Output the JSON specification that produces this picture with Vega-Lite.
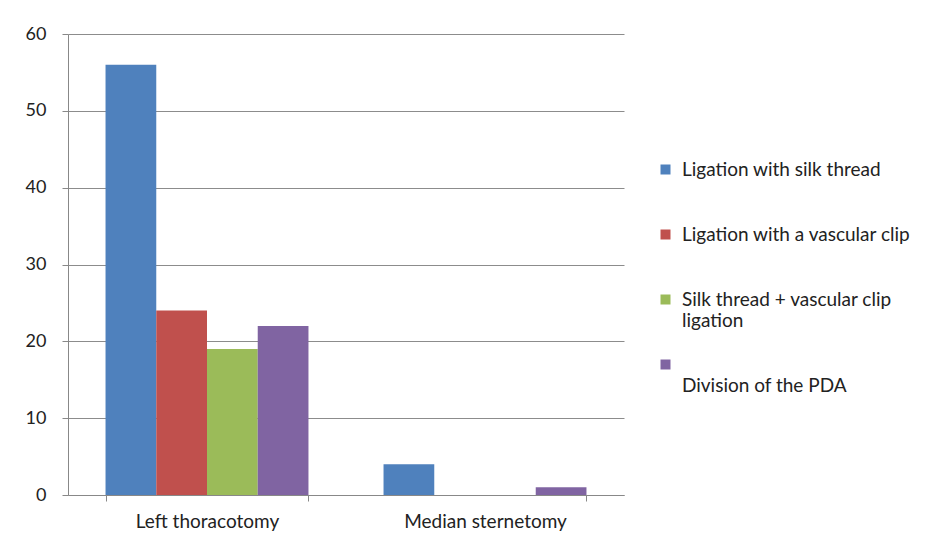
{
  "$schema": "https://vega.github.io/schema/vega-lite/v6.json",
  "width": 556,
  "height": 461,
  "autosize": {"type": "none"},
  "padding": {"left": 68, "top": 34, "right": 309, "bottom": 50},
  "background": "white",
  "data": {
    "values": [
      {"approach": "Left thoracotomy", "method": "Ligation with silk thread", "count": 56},
      {"approach": "Left thoracotomy", "method": "Ligation with a vascular clip", "count": 24},
      {"approach": "Left thoracotomy", "method": "Silk thread + vascular clip ligation", "count": 19},
      {"approach": "Left thoracotomy", "method": "Division of the PDA", "count": 22},
      {"approach": "Median sternetomy", "method": "Ligation with silk thread", "count": 4},
      {"approach": "Median sternetomy", "method": "Ligation with a vascular clip", "count": 0},
      {"approach": "Median sternetomy", "method": "Silk thread + vascular clip ligation", "count": 0},
      {"approach": "Median sternetomy", "method": "Division of the PDA", "count": 1}
    ]
  },
  "mark": {"type": "bar"},
  "encoding": {
    "x": {
      "field": "approach",
      "type": "nominal",
      "sort": ["Left thoracotomy", "Median sternetomy"],
      "scale": {"paddingInner": 0.27, "paddingOuter": 0.135},
      "axis": {
        "title": null,
        "labelAngle": 0,
        "labelFont": "Lato",
        "labelFontSize": 19,
        "labelColor": "#222222",
        "domainColor": "#888888",
        "tickColor": "#888888",
        "tickBand": "extent",
        "tickSize": 6,
        "labelPadding": 11
      }
    },
    "xOffset": {
      "field": "method",
      "type": "nominal",
      "sort": ["Ligation with silk thread", "Ligation with a vascular clip", "Silk thread + vascular clip ligation", "Division of the PDA"],
      "scale": {"paddingInner": 0, "paddingOuter": 0}
    },
    "y": {
      "field": "count",
      "type": "quantitative",
      "scale": {"domain": [0, 60]},
      "axis": {
        "title": null,
        "values": [0, 10, 20, 30, 40, 50, 60],
        "grid": true,
        "gridColor": "#8c8c8c",
        "gridOpacity": 1,
        "domainColor": "#888888",
        "tickColor": "#888888",
        "tickSize": 6,
        "labelPadding": 16,
        "labelFont": "Lato",
        "labelFontSize": 18,
        "labelColor": "#222222"
      }
    },
    "color": {
      "field": "method",
      "type": "nominal",
      "scale": {
        "domain": ["Ligation with silk thread", "Ligation with a vascular clip", "Silk thread + vascular clip ligation", "Division of the PDA"],
        "range": ["#4F81BD", "#C0504D", "#9BBB59", "#8064A2"]
      },
      "legend": {
        "orient": "none",
        "legendX": 588,
        "legendY": 126,
        "title": null,
        "padding": 0,
        "symbolType": "square",
        "symbolSize": 100,
        "symbolStrokeWidth": 0,
        "labelFont": "Lato",
        "labelFontSize": 19,
        "labelColor": "#222222",
        "labelLimit": 320,
        "labelOffset": 7,
        "gridAlign": "all",
        "rowPadding": 24,
        "labelExpr": "datum.label == 'Silk thread + vascular clip ligation' ? ['Silk thread + vascular clip', 'ligation'] : datum.label == 'Division of the PDA' ? ['', 'Division of the PDA'] : datum.label"
      }
    }
  },
  "config": {"view": {"stroke": null}}
}
